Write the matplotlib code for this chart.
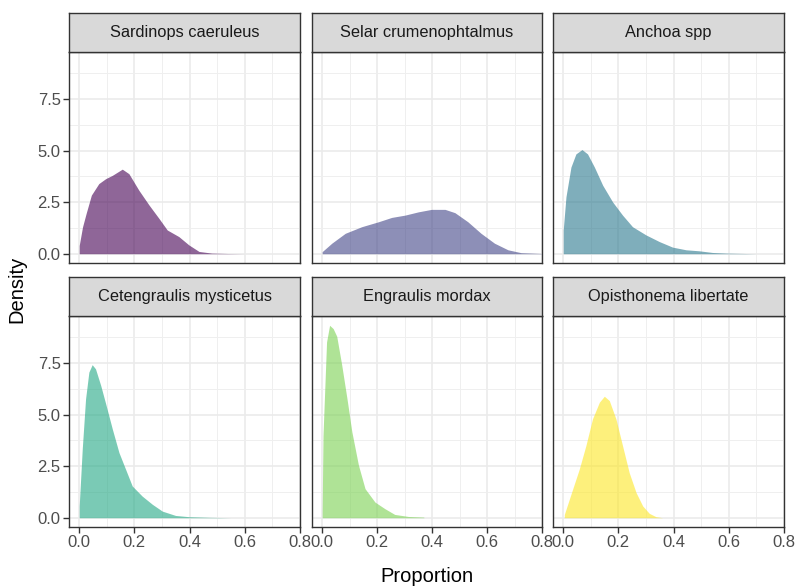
import numpy as np
import matplotlib
matplotlib.use("Agg")
import matplotlib.pyplot as plt

plt.rcParams['font.family'] = ['Liberation Sans', 'DejaVu Sans']

# density curves (x = proportion, y = density)
species = ["Sardinops caeruleus", "Selar crumenophtalmus", "Anchoa spp",
           "Cetengraulis mysticetus", "Engraulis mordax", "Opisthonema libertate"]

sardinops_x = [0.0, 0.012, 0.025, 0.044, 0.071, 0.096, 0.12, 0.156, 0.18, 0.216, 0.253,
               0.289, 0.319, 0.361, 0.397, 0.434, 0.48, 0.54, 0.6]
sardinops_y = [0.4, 1.3, 1.95, 2.84, 3.4, 3.64, 3.8, 4.1, 3.88, 3.08, 2.36,
               1.71, 1.15, 0.83, 0.43, 0.11, 0.03, 0.01, 0.0]

selar_x = [0.0, 0.035, 0.084, 0.144, 0.205, 0.253, 0.301, 0.35, 0.398, 0.447, 0.483,
           0.53, 0.578, 0.627, 0.676, 0.724, 0.8]
selar_y = [0.1, 0.51, 0.99, 1.31, 1.55, 1.76, 1.87, 2.03, 2.15, 2.15, 1.99,
           1.55, 0.99, 0.51, 0.19, 0.05, 0.01]

anchoa_x = [0.0, 0.01, 0.028, 0.046, 0.068, 0.088, 0.113, 0.143, 0.179, 0.215, 0.251,
            0.3, 0.348, 0.396, 0.445, 0.493, 0.541, 0.59, 0.7]
anchoa_y = [1.15, 2.76, 4.2, 4.84, 5.05, 4.84, 4.2, 3.32, 2.51, 1.87, 1.31,
            0.91, 0.59, 0.32, 0.19, 0.14, 0.06, 0.03, 0.0]

cetengraulis_x = [0.0, 0.011, 0.023, 0.035, 0.047, 0.059, 0.078, 0.096, 0.12, 0.144, 0.168,
                  0.192, 0.228, 0.265, 0.301, 0.349, 0.397, 0.47, 0.55]
cetengraulis_y = [0.57, 3.33, 5.76, 7.06, 7.42, 7.22, 6.41, 5.52, 4.3, 3.16, 2.35,
                  1.54, 1.05, 0.65, 0.32, 0.11, 0.05, 0.02, 0.0]

engraulis_x = [0.0, 0.003, 0.016, 0.027, 0.04, 0.053, 0.071, 0.09, 0.108, 0.132, 0.156,
               0.192, 0.228, 0.264, 0.314, 0.37]
engraulis_y = [0.3, 3.97, 8.52, 9.33, 9.17, 8.8, 7.42, 5.8, 4.17, 2.55, 1.41,
               0.76, 0.44, 0.16, 0.06, 0.03]

opisthonema_x = [0.004, 0.034, 0.058, 0.082, 0.106, 0.131, 0.149, 0.167, 0.191, 0.215, 0.239,
                 0.264, 0.288, 0.312, 0.336, 0.36]
opisthonema_y = [0.16, 1.38, 2.35, 3.49, 4.79, 5.6, 5.89, 5.68, 4.79, 3.49, 2.19,
                 1.22, 0.57, 0.21, 0.05, 0.0]

curves = [(sardinops_x, sardinops_y), (selar_x, selar_y), (anchoa_x, anchoa_y),
          (cetengraulis_x, cetengraulis_y), (engraulis_x, engraulis_y),
          (opisthonema_x, opisthonema_y)]

# viridis, 6 levels
colors = ["#440154", "#414487", "#2A788E", "#22A884", "#7AD151", "#FDE725"]

x_ticks = [0.0, 0.2, 0.4, 0.6, 0.8]
y_ticks = [0.0, 2.5, 5.0, 7.5]

W, H = 797, 586
fig = plt.figure(figsize=(W / 100, H / 100), dpi=100)

# panel layout in pixels
col_x = [(69, 300), (312, 542), (553, 784)]
row_y = [(52, 263), (316, 527)]
strip_h = 39

def px_axes(x0, y0, x1, y1):
    return fig.add_axes([x0 / W, 1 - y1 / H, (x1 - x0) / W, (y1 - y0) / H])

for i, name in enumerate(species):
    r, c = divmod(i, 3)
    x0, x1 = col_x[c]
    y0, y1 = row_y[r]
    ax = px_axes(x0, y0, x1, y1)
    xs, ys = curves[i]
    ax.fill_between(xs, 0, ys, color=colors[i], alpha=0.6, linewidth=0, zorder=3)

    ax.set_xlim(-0.037, 0.8)
    ax.set_ylim(-0.45, 9.78)
    ax.set_xticks(x_ticks)
    ax.set_yticks(y_ticks)
    ax.set_xticks([0.1, 0.3, 0.5, 0.7], minor=True)
    ax.set_yticks([1.25, 3.75, 6.25, 8.75], minor=True)
    ax.grid(which='major', color='#EBEBEB', linewidth=1.2, zorder=0)
    ax.grid(which='minor', color='#EFEFEF', linewidth=0.7, zorder=0)
    ax.set_axisbelow(True)
    for s in ax.spines.values():
        s.set_color('#333333')
        s.set_linewidth(1.0)
    ax.tick_params(which='minor', length=0)
    ax.tick_params(which='major', length=4, width=1.0, color='#333333',
                   labelcolor='#4D4D4D', labelsize=12, pad=2)
    if r == 0:
        ax.tick_params(axis='x', labelbottom=False, length=0)
    else:
        ax.set_xticklabels(["0.0", "0.2", "0.4", "0.6", "0.8"])
    if c != 0:
        ax.tick_params(axis='y', labelleft=False, length=0)
    else:
        ax.set_yticklabels(["0.0", "2.5", "5.0", "7.5"])

    # facet strip
    sax = px_axes(x0, y0 - strip_h, x1, y0)
    sax.set_facecolor('#D9D9D9')
    sax.set_xticks([])
    sax.set_yticks([])
    for s in sax.spines.values():
        s.set_color('#333333')
        s.set_linewidth(1.0)
    sax.text(0.5, 0.5, name, ha='center', va='center', fontsize=11.8,
             color='#1A1A1A', transform=sax.transAxes)

fig.text(427 / W, 1 - 577 / H, "Proportion", ha='center', va='center', fontsize=14.5)
fig.text(17 / W, 1 - 289 / H, "Density", ha='center', va='center', fontsize=14.5,
         rotation=90)

fig.savefig("out.png", dpi=100)
